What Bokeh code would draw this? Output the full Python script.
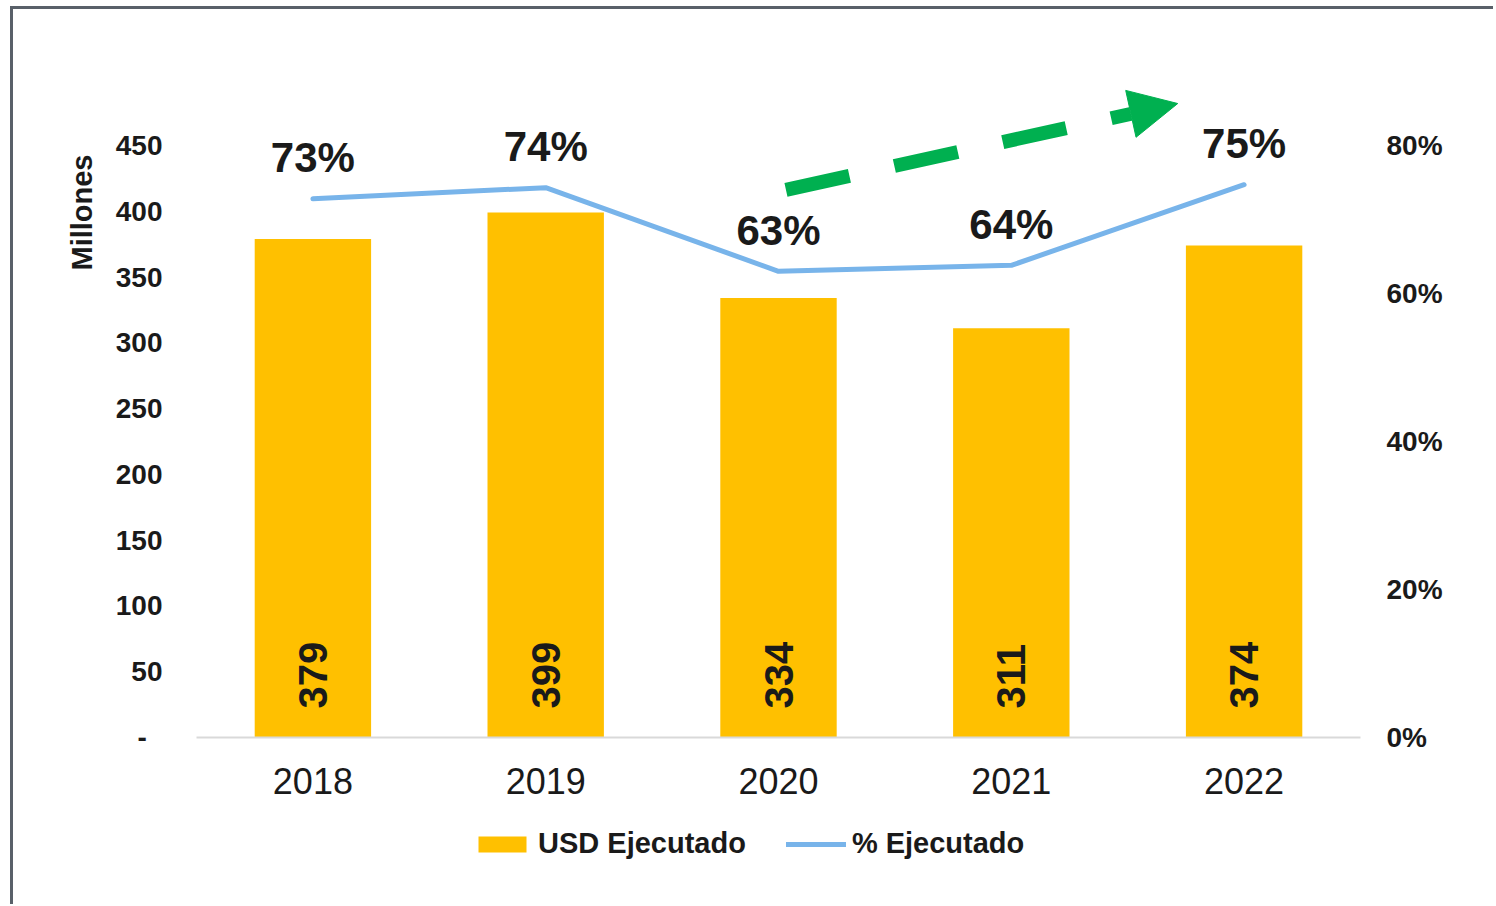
from math import pi
from bokeh.plotting import figure
from bokeh.layouts import column
from bokeh.models import (Range1d, FactorRange, LinearAxis, FixedTicker, NumeralTickFormatter,
                          Legend, LegendItem, Arrow, NormalHead, ColumnDataSource, Title)
from bokeh.core.properties import value
from bokeh.embed import file_html
from bokeh.resources import INLINE

# ---- data ----
years = ["2018", "2019", "2020", "2021", "2022"]
usd_ejecutado = [379, 399, 334, 311, 374]
pct_ejecutado = [0.728, 0.743, 0.630, 0.638, 0.747]
left_ticks = [0, 50, 100, 150, 200, 250, 300, 350, 400, 450]
right_ticks = [0.0, 0.2, 0.4, 0.6, 0.8]
series_names = ["USD Ejecutado", "% Ejecutado"]

pct_labels = [f"{round(v * 100):d}%" for v in pct_ejecutado]
usd_labels = [str(v) for v in usd_ejecutado]

FONT = "Liberation Sans"
TXT = "#1a1a1a"
GOLD = "#FFC000"
BLUE = "#78B4EA"
GREEN = "#00B050"
W = 1480

y_top = 529.8
src = ColumnDataSource(dict(year=years, usd=usd_ejecutado, pct=pct_ejecutado,
                            pct_lab=pct_labels, usd_lab=usd_labels,
                            zero=[0] * len(years)))

p = figure(x_range=FactorRange(*years), y_range=Range1d(0, y_top),
           width=W, height=808, output_backend="svg", toolbar_location=None,
           min_border_left=183, min_border_right=133, min_border_top=31,
           min_border_bottom=80)
p.extra_y_ranges = {"pct": Range1d(0, y_top / 450 * 0.8)}
p.outline_line_color = None
p.xgrid.grid_line_color = None
p.ygrid.grid_line_color = None
p.background_fill_color = "white"
p.border_fill_color = "white"

bars = p.vbar(x="year", top="usd", width=0.5, source=src, fill_color=GOLD, line_color=None)
line = p.line(x="year", y="pct", y_range_name="pct", source=src, line_color=BLUE,
              line_width=5, line_join="round", line_cap="round")

# bar value labels (rotated, inside base)
p.text(x="year", y="zero", text="usd_lab", source=src, angle=pi / 2,
       text_align="left", text_baseline="middle", y_offset=-29,
       text_font=value(FONT), text_font_style="bold", text_font_size="40px",
       text_color=TXT)
# percentage labels above line
p.text(x="year", y="pct", y_range_name="pct", text="pct_lab", source=src,
       text_align="center", text_baseline="middle", y_offset=-41,
       text_font=value(FONT), text_font_style="bold", text_font_size="42px",
       text_color=TXT)

# x axis
xa = p.xaxis[0]
xa.axis_line_color = "#d9d9d9"
xa.axis_line_width = 2
xa.major_tick_line_color = None
xa.minor_tick_line_color = None
xa.major_label_standoff = 24
xa.major_label_text_font = FONT
xa.major_label_text_font_size = "36px"
xa.major_label_text_color = TXT

# left axis
ya = p.yaxis[0]
ya.ticker = FixedTicker(ticks=left_ticks)
ya.major_label_overrides = {0: "-\u00a0\u00a0"}
ya.axis_line_color = None
ya.major_tick_line_color = None
ya.minor_tick_line_color = None
ya.major_tick_out = 0
ya.major_label_standoff = 34
ya.major_label_text_font = FONT
ya.major_label_text_font_style = "bold"
ya.major_label_text_font_size = "28px"
ya.major_label_text_color = TXT

# axis title "Millones", placed near the top of the left side like the original
p.add_layout(Title(text="Millones", align="right", offset=114, standoff=30,
                   text_font=FONT, text_font_style="bold", text_font_size="29px",
                   text_color=TXT), "left")

# right axis
ra = LinearAxis(y_range_name="pct", ticker=FixedTicker(ticks=right_ticks),
                formatter=NumeralTickFormatter(format="0%"))
ra.axis_line_color = None
ra.major_tick_line_color = None
ra.minor_tick_line_color = None
ra.major_tick_out = 0
ra.major_label_standoff = 26
ra.major_label_text_font = FONT
ra.major_label_text_font_style = "bold"
ra.major_label_text_font_size = "28px"
ra.major_label_text_color = TXT
p.add_layout(ra, "right")

# green trend arrow
p.add_layout(Arrow(x_start=2.532, y_start=416.2, x_end=4.215, y_end=481.9,
                   line_color=GREEN, line_width=14, line_dash="65 46", line_cap="butt",
                   end=NormalHead(size=48, fill_color=GREEN, line_color=GREEN, line_width=1)))

# legend strip under the chart: same series drawn out of view, only their legend shows
lg = figure(width=W, height=87, output_backend="svg", toolbar_location=None,
            x_axis_type=None, y_axis_type=None, min_border=0,
            x_range=FactorRange(*years), y_range=Range1d(1000, 1001))
lg.outline_line_color = None
lg.xgrid.grid_line_color = None
lg.ygrid.grid_line_color = None
lg_bar = lg.vbar(x="year", top="usd", width=0.5, source=src, fill_color=GOLD, line_color=None)
lg_line = lg.line(x="year", y="pct", source=src, line_color=BLUE, line_width=5, line_cap="round")
legend = Legend(items=[LegendItem(label=series_names[0], renderers=[lg_bar]),
                       LegendItem(label=series_names[1], renderers=[lg_line])],
                orientation="horizontal", location=(276, 44),
                glyph_width=60, glyph_height=20, label_standoff=6, spacing=40,
                padding=10, margin=0,
                label_text_font=FONT, label_text_font_style="bold",
                label_text_font_size="29px", label_text_color=TXT,
                border_line_color=None, background_fill_alpha=0)
lg.add_layout(legend, "center")

layout = column(p, lg, spacing=0)
layout.styles = {"border-left": "3px solid #596069", "border-top": "3px solid #596069",
                 "margin-left": "10px", "margin-top": "6px"}

open("out.html", "w").write(file_html(layout, INLINE))
